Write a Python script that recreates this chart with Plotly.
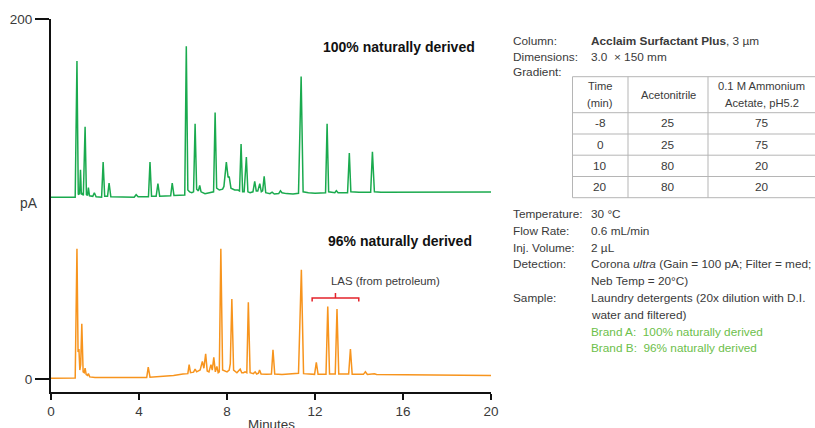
import plotly.graph_objects as go

# ---------------- data ----------------
green_time = [0.00, 1.10, 1.18, 1.24, 1.30, 1.34, 1.38, 1.42, 1.47, 1.55, 1.61, 1.66, 1.70, 1.75, 1.90, 1.97,
              2.05, 2.30, 2.37, 2.44, 2.57, 2.64, 2.72, 3.78, 3.87, 3.96, 4.43, 4.50, 4.57, 4.78, 4.86, 4.94,
              5.44, 5.51, 5.59, 6.08, 6.15, 6.22, 6.30, 6.40, 6.48, 6.55, 6.62, 6.70, 6.76, 6.82, 7.00, 7.20,
              7.39, 7.46, 7.53, 7.65, 7.80, 7.86, 7.97, 8.05, 8.10, 8.18, 8.35, 8.50, 8.57, 8.64, 8.71, 8.78,
              8.88, 8.95, 9.05, 9.18, 9.26, 9.33, 9.40, 9.49, 9.56, 9.62, 9.69, 9.76, 9.95, 10.05, 10.15, 10.35,
              10.43, 10.50, 10.70, 11.00, 11.25, 11.37, 11.46, 11.70, 12.00, 12.48, 12.55, 12.62, 12.90, 12.97,
              13.05, 13.48, 13.56, 13.63, 14.00, 14.53, 14.61, 14.70, 15.00, 20.00]
green_pA = [101.0, 101.0, 176.7, 102.5, 103.0, 116.2, 102.5, 103.0, 102.0, 140.2, 102.5, 102.0, 106.3, 101.8, 101.5, 103.5,
            101.2, 101.0, 120.5, 101.5, 101.5, 108.8, 101.2, 101.0, 102.4, 101.2, 101.2, 120.5, 101.6, 101.6, 108.5, 101.6,
            101.8, 108.8, 102.0, 102.2, 184.8, 105.0, 104.0, 103.5, 104.0, 141.8, 105.5, 104.5, 107.5, 104.0, 103.0, 103.5,
            104.0, 148.1, 106.0, 105.0, 105.5, 107.0, 120.5, 112.0, 112.5, 106.0, 105.0, 105.0, 104.5, 130.6, 104.0, 104.0,
            123.3, 104.0, 103.5, 104.0, 109.8, 104.5, 104.5, 108.5, 104.0, 104.5, 112.6, 103.5, 103.0, 103.8, 102.8, 103.0,
            104.6, 103.5, 103.0, 102.8, 103.2, 168.1, 104.0, 103.5, 103.2, 103.5, 141.8, 104.0, 103.5, 104.6,
            103.5, 103.5, 125.5, 104.0, 103.7, 103.7, 126.3, 104.0, 103.8, 103.9]

orange_time = [0.00, 1.10, 1.18, 1.23, 1.27, 1.31, 1.35, 1.40, 1.46, 1.51, 1.55, 1.60, 1.66, 1.70, 1.76, 2.00,
               4.35, 4.42, 4.50, 5.00, 5.57, 6.00, 6.22, 6.28, 6.34, 6.48, 6.55, 6.62, 6.78, 6.88, 6.95, 7.03,
               7.10, 7.18, 7.27, 7.33, 7.40, 7.47, 7.54, 7.60, 7.65, 7.72, 7.80, 8.00, 8.10, 8.15, 8.22, 8.30,
               8.45, 8.52, 8.60, 8.67, 8.75, 8.82, 8.90, 8.97, 9.05, 9.20, 9.28, 9.35, 9.43, 9.48, 9.55, 9.80,
               10.02, 10.09, 10.17, 10.50, 11.00, 11.25, 11.38, 11.48, 11.98, 12.06, 12.14, 12.50, 12.58, 12.66,
               12.92, 13.00, 13.08, 13.53, 13.61, 13.69, 14.20, 14.29, 14.38, 14.60, 14.70, 14.80, 16.00, 20.00]
orange_pA = [0.5, 0.6, 72.4, 15.0, 16.7, 5.0, 8.0, 30.7, 4.0, 3.5, 6.1, 2.5, 2.0, 3.0, 1.2, 0.8,
             0.8, 6.6, 1.0, 1.3, 2.0, 2.8, 3.0, 8.0, 3.5, 3.8, 5.5, 4.0, 5.0, 9.8, 6.0, 14.0,
             4.5, 4.0, 8.0, 5.0, 12.0, 4.0, 7.0, 3.5, 4.0, 72.4, 5.0, 4.0, 5.0, 8.5, 44.4, 5.0,
             3.5, 4.5, 5.5, 3.5, 3.5, 4.0, 3.5, 42.6, 3.5, 3.0, 4.0, 2.8, 3.2, 5.0, 2.8, 2.6,
             2.8, 16.3, 2.8, 2.5, 2.8, 3.2, 60.7, 3.0, 2.6, 9.2, 2.6, 2.6, 40.3, 2.8,
             2.8, 38.9, 2.8, 2.8, 16.7, 2.6, 2.6, 4.0, 2.5, 2.6, 2.9, 2.5, 2.3, 2.0]

x_ticks = [0, 4, 8, 12, 16, 20]
y_ticks = [0, 200]

las_range = [11.87, 13.99]   # minutes spanned by the LAS bracket
las_level = 45.0             # pA

table_header = [["Time", "(min)"], ["Acetonitrile"], ["0.1 M Ammonium", "Acetate, pH5.2"]]
table_time = ["-8", "0", "10", "20"]
table_acn = ["25", "25", "80", "80"]
table_amm = ["75", "75", "20", "20"]

cond_labels = ["Column:", "Dimensions:", "Gradient:"]
cond_values = ["<b>Acclaim Surfactant Plus</b>, 3 µm", "3.0 \u00a0× 150 mm", ""]
cond2_labels = ["Temperature:", "Flow Rate:", "Inj. Volume:", "Detection:", "", "Sample:", "", "", ""]
cond2_values = ["30 °C", "0.6 mL/min", "2 µL",
                "Corona <i>ultra</i> (Gain = 100 pA; Filter = med;",
                "Neb Temp = 20°C)",
                "Laundry detergents (20x dilution with D.I.",
                "water and filtered)",
                "Brand A: \u00a0100% naturally derived",
                "Brand B: \u00a096% naturally derived"]

# ---------------- styling ----------------
W, H = 815, 428
ML, MR, MT, MB = 51, 324, 19, 36
PW, PH = W - ML - MR, H - MT - MB
FONT = "Liberation Sans, Arial, sans-serif"
TXT = "#3a3a3a"
GREEN = "#1aaa4e"
ORANGE = "#f7941d"
LIGHTGREEN = "#6cc04a"
SIDE = 11.8


def px(x):
    return (x - ML) / PW


def py(y):
    return (H - MB - y) / PH


def note(x, y, text, size, color=TXT, anchor="center"):
    if anchor == "left":
        x -= 2
    return dict(x=px(x), y=py(y), xref="paper", yref="paper", text=text, xanchor=anchor,
                yanchor="middle", showarrow=False, font=dict(family=FONT, size=size, color=color))


fig = go.Figure()
fig.add_trace(go.Scatter(x=green_time, y=green_pA, mode="lines",
                         line=dict(color=GREEN, width=1.5), hoverinfo="skip"))
fig.add_trace(go.Scatter(x=orange_time, y=orange_pA, mode="lines",
                         line=dict(color=ORANGE, width=1.5), hoverinfo="skip"))

ann = []
ann.append(dict(x=15.8, y=184.6, xref="x", yref="y", text="<b>100% naturally derived</b>",
                showarrow=False, font=dict(family=FONT, size=14, color="#111")))
ann.append(dict(x=15.85, y=76.6, xref="x", yref="y", text="<b>96% naturally derived</b>",
                showarrow=False, font=dict(family=FONT, size=14, color="#111")))
ann.append(dict(x=15.2, y=54.6, xref="x", yref="y", text="LAS (from petroleum)",
                showarrow=False, font=dict(family=FONT, size=11.4, color=TXT)))
ann.append(note(29, 203, "pA", 13.8))
ann.append(note(271, 424, "Minutes", 13.4))

# conditions text
y0 = [40.7, 57.3, 72.3]
for lab, val, yy in zip(cond_labels, cond_values, y0):
    ann.append(note(512.5, yy, lab, SIDE, anchor="left"))
    if val:
        ann.append(note(590.5, yy, val, SIDE, anchor="left"))
y1 = [214, 230.8, 247.6, 264.4, 281.2, 298, 314.8, 331.6, 348.4]
for i, (lab, val, yy) in enumerate(zip(cond2_labels, cond2_values, y1)):
    col = LIGHTGREEN if i >= 7 else TXT
    if lab:
        ann.append(note(512.5, yy, lab, SIDE, anchor="left"))
    ann.append(note(590.5, yy, val, SIDE, color=col, anchor="left"))

# table
col_edges = [572.5, 628, 708, 815]
row_edges = [76.7, 112.7, 134, 155.2, 176.5, 197.7]
col_centers = [(col_edges[i] + col_edges[i + 1]) / 2 for i in range(3)]
hc = (row_edges[0] + row_edges[1]) / 2
for c, lines in zip(col_centers, table_header):
    n = len(lines)
    for k, t in enumerate(lines):
        ann.append(note(c, hc + (k - (n - 1) / 2) * 16.5, t, 11.2))
for r in range(4):
    yc = (row_edges[r + 1] + row_edges[r + 2]) / 2
    for c, v in zip(col_centers, [table_time[r], table_acn[r], table_amm[r]]):
        ann.append(note(c, yc, v, 11.8))

shapes = []
for ye in row_edges:
    shapes.append(dict(type="line", xref="paper", yref="paper", x0=px(col_edges[0]), x1=px(815),
                       y0=py(ye), y1=py(ye), line=dict(color="#b5b5b5", width=1)))
for xe in col_edges[:3]:
    shapes.append(dict(type="line", xref="paper", yref="paper", x0=px(xe), x1=px(xe),
                       y0=py(row_edges[0]), y1=py(row_edges[-1]), line=dict(color="#b5b5b5", width=1)))

# LAS bracket
xa, xb = las_range
xm = (xa + xb) / 2
shapes.append(dict(type="path", xref="x", yref="y",
                   path=f"M {xa},{las_level-1.9} L {xa},{las_level} L {xb},{las_level} L {xb},{las_level-1.9} "
                        f"M {xm},{las_level} L {xm},{las_level+2.8}",
                   line=dict(color="#e4232b", width=1.5)))

fig.update_layout(
    width=W, height=H, margin=dict(l=ML, r=MR, t=MT, b=MB, autoexpand=False),
    paper_bgcolor="white", plot_bgcolor="white", showlegend=False,
    annotations=ann, shapes=shapes,
    xaxis=dict(range=[0, 20], tickvals=x_ticks, ticks="outside", ticklen=6, tickwidth=2,
               tickcolor="#111", showline=True, linecolor="#111", linewidth=2, showgrid=False,
               zeroline=False, automargin=False, tickfont=dict(family=FONT, size=13.5, color=TXT)),
    yaxis=dict(range=[-7.2, 200], tickvals=y_ticks, ticks="outside", ticklen=14, tickwidth=2,
               tickcolor="#111", showline=True, linecolor="#111", linewidth=2, showgrid=False,
               zeroline=False, automargin=False, tickfont=dict(family=FONT, size=13.5, color=TXT)),
)
fig.write_html("out.html", config={"displayModeBar": False},
               post_script="document.body.style.margin='0';document.body.style.overflow='hidden';")
